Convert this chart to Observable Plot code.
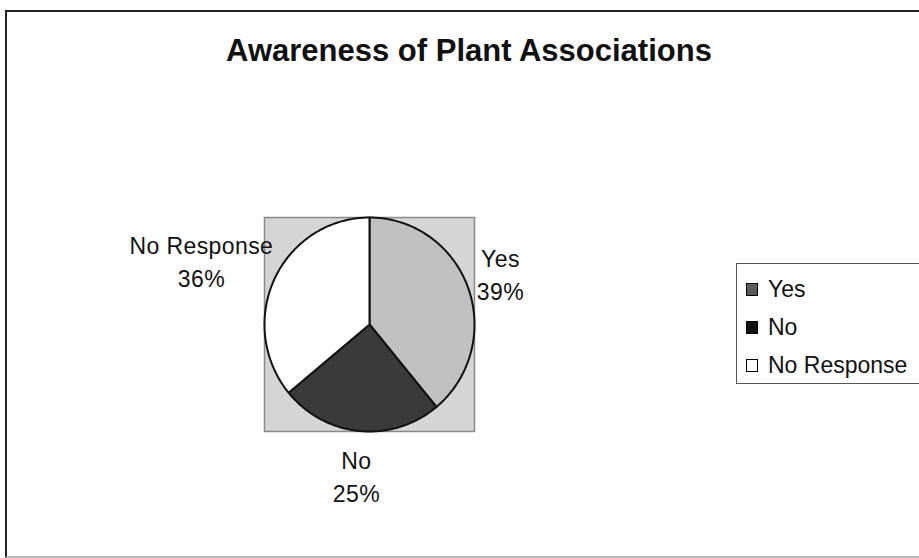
<!DOCTYPE html>
<html>
<head>
<meta charset="utf-8">
<script src="https://cdn.jsdelivr.net/npm/d3@7"></script>
<script src="https://cdn.jsdelivr.net/npm/@observablehq/plot@0.6"></script>
<style>
  html, body { margin: 0; padding: 0; background: #fff; }
  #wrap { position: relative; width: 919px; height: 558px; overflow: hidden; font-family: Arial, "Liberation Sans", sans-serif; }
  #border { position: absolute; left: 5px; top: 10px; width: 940px; height: 544px; border-left: 2px solid #222; border-top: 2px solid #222; border-bottom: 2px solid #bbb; }
  #chart { position: absolute; left: 0; top: 0; }
  #chart text { letter-spacing: 0.4px; }
  #title { position: absolute; left: 0; top: 33px; width: 938px; text-align: center; font-weight: bold; font-size: 31px; color: #111; }
  #legend { position: absolute; left: 736px; top: 263px; width: 220px; height: 119px; border: 1px solid #555; background: #fff; }
  .item { position: absolute; left: 9px; height: 26px; display: flex; align-items: center; font-size: 23px; color: #111; }
  .sw { width: 10px; height: 11px; border: 1px solid #000; margin-right: 10px; }
</style>
</head>
<body>
<div id="wrap">
  <div id="border"></div>
  <div id="chart"></div>
  <div id="title"></div>
  <div id="legend"></div>
</div>
<script>
const title = "Awareness of Plant Associations";
const categories = ["Yes", "No", "No Response"];
const percents = [39, 25, 36];
const colors = ["#c0c0c0", "#3a3a3a", "#ffffff"];
const legendColors = ["#5a5a5a", "#111111", "#ffffff"];

const W = 919, H = 558;
const mL = 264, mR = 445, mT = 217, mB = 127;
const kx = (W - mL - mR) / 2, ky = (H - mT - mB) / 2; // px per data unit
const fontSize = 23, lineHeightPx = 33;

// measure label text to place each label just outside its slice
const ctx = document.createElement("canvas").getContext("2d");
ctx.font = `${fontSize}px Arial, "Liberation Sans", sans-serif`;

const total = d3.sum(percents);
let acc = 0;
const pts = [];
const labels = [];
categories.forEach((cat, i) => {
  const a0 = acc / total * 2 * Math.PI;
  acc += percents[i];
  const a1 = acc / total * 2 * Math.PI;
  pts.push({cat, x: 0, y: 0});
  const n = Math.max(2, Math.ceil((a1 - a0) / (Math.PI / 180)));
  for (let k = 0; k <= n; k++) {
    const a = a0 + (a1 - a0) * k / n;
    pts.push({cat, x: Math.sin(a), y: Math.cos(a)});
  }
  pts.push({cat, x: 0, y: 0});
  const m = (a0 + a1) / 2;
  const lines = [cat, `${percents[i]}%`];
  const w = d3.max(lines, s => ctx.measureText(s).width);
  const h = lines.length * lineHeightPx;
  const gap = 8;
  const r = 1.03;
  labels.push({
    cat,
    x: r * Math.sin(m) + Math.sin(m) * (w / 2 + gap) / kx,
    y: r * Math.cos(m) + Math.cos(m) * (h / 2 + gap) / ky,
    text: lines.join("\n")
  });
});

const plot = Plot.plot({
  width: W,
  height: H,
  marginLeft: mL,
  marginRight: mR,
  marginTop: mT,
  marginBottom: mB,
  x: {domain: [-1, 1], axis: null},
  y: {domain: [-1, 1], axis: null},
  color: {domain: categories, range: colors},
  style: {fontFamily: "Arial, 'Liberation Sans', sans-serif", background: "transparent"},
  marks: [
    Plot.frame({fill: "#d5d5d5", stroke: "#8a8a8a", strokeWidth: 1.5}),
    Plot.line(pts, {x: "x", y: "y", z: "cat", fill: "cat", stroke: "#111", strokeWidth: 2, strokeLinejoin: "round"}),
    Plot.text(labels, {x: "x", y: "y", text: "text", textAnchor: "middle", lineAnchor: "middle",
      fontSize, lineHeight: lineHeightPx / fontSize, fill: "#111"})
  ]
});
document.getElementById("chart").appendChild(plot);
document.getElementById("title").textContent = title;

const legend = document.getElementById("legend");
categories.forEach((cat, i) => {
  const item = document.createElement("div");
  item.className = "item";
  item.style.top = (12 + i * 38) + "px";
  const sw = document.createElement("span");
  sw.className = "sw";
  sw.style.background = legendColors[i];
  item.appendChild(sw);
  item.appendChild(document.createTextNode(cat));
  legend.appendChild(item);
});
</script>
</body>
</html>
